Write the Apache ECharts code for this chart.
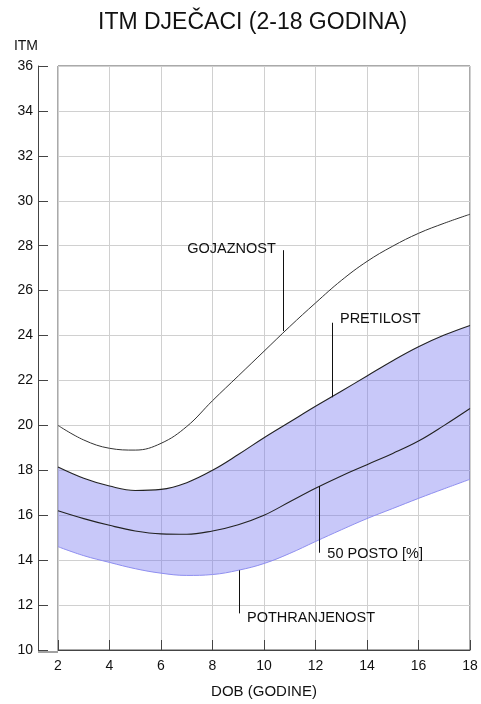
<!DOCTYPE html>
<html>
<head>
<meta charset="utf-8">
<script src="https://cdn.jsdelivr.net/npm/echarts@6/dist/echarts.min.js"></script>
<style>
html,body{margin:0;padding:0;background:#fff;}
#chart{width:481px;height:704px;}
</style>
</head>
<body>
<div id="chart"></div>
<script>
// ---- data ----
const ages = [2,3,4,5,6,7,8,9,10,11,12,13,14,15,16,17,18];
const gojaznost     = [20.0,19.35,18.98,18.9,19.2,19.95,21.1,22.2,23.3,24.4,25.45,26.45,27.3,27.98,28.55,29.0,29.4];
const pretilost     = [18.15,17.65,17.3,17.1,17.15,17.45,18.0,18.7,19.45,20.15,20.85,21.52,22.2,22.88,23.5,24.02,24.45];
const posto50       = [16.2,15.85,15.55,15.3,15.17,15.15,15.3,15.58,16.0,16.6,17.2,17.75,18.25,18.75,19.3,20.0,20.75];
const pothranjenost = [14.6,14.2,13.9,13.62,13.42,13.32,13.36,13.55,13.85,14.3,14.83,15.35,15.85,16.3,16.75,17.18,17.6];

const titleText = 'ITM DJEČACI (2-18 GODINA)';
const xName = 'DOB (GODINE)';
const yName = 'ITM';

// annotations (data-space anchor points for leader lines and labels)
const annLabels = ['GOJAZNOST','PRETILOST','50 POSTO [%]','POTHRANJENOST'];
const annX      = [10.73, 12.64, 12.15, 9.03];
const annYFrom  = [24.2, 21.25, 17.3, 13.55];
const annYTo    = [27.8, 24.57, 14.33, 11.63];
const annYText  = [27.85, 24.75, 14.29, 11.44];
const annSide   = ['left','right','right','right'];

// ---- build ----
const cats = ages.map(String);
const bandWidth = ages.map((a,i)=> +(pretilost[i]-pothranjenost[i]).toFixed(3));
const FONT = 'Liberation Sans, Arial, sans-serif';
const SM = 0.4;

const chart = echarts.init(document.getElementById('chart'), null, {renderer:'canvas'});
chart.setOption({
  animation:false,
  backgroundColor:'#fff',
  title:{
    text:titleText, left:93, top:6,
    textStyle:{fontFamily:FONT,fontSize:23,fontWeight:'normal',color:'#111'}
  },
  grid:{left:58,right:11,top:66,bottom:52,show:true,borderColor:'#555',borderWidth:1,backgroundColor:'transparent'},
  xAxis:[{
    type:'category',data:cats,boundaryGap:false,
    name:xName,nameLocation:'middle',nameGap:34,
    nameTextStyle:{fontFamily:FONT,fontSize:15,color:'#111'},
    axisLine:{show:true,lineStyle:{color:'#444',width:1}},
    axisTick:{show:true,inside:true,length:10,interval:1,lineStyle:{color:'#444'}},
    axisLabel:{fontFamily:FONT,fontSize:14,color:'#111',margin:9,interval:1},
    splitLine:{show:true,interval:1,lineStyle:{color:'#d0d0d0',width:1}}
  },{
    type:'value',min:2,max:18,show:false,
    axisLine:{show:false},axisTick:{show:false},axisLabel:{show:false},splitLine:{show:false}
  }],
  yAxis:{
    type:'value',min:10,max:36,interval:2,offset:20,
    name:yName,nameLocation:'end',nameGap:13,
    nameTextStyle:{fontFamily:FONT,fontSize:14,color:'#111',align:'right'},
    axisLine:{show:true,lineStyle:{color:'#444',width:1}},
    axisTick:{show:true,inside:true,length:10,lineStyle:{color:'#444'}},
    axisLabel:{fontFamily:FONT,fontSize:14,color:'#111',margin:5},
    splitLine:{show:true,lineStyle:{color:'#d0d0d0',width:1}}
  },
  graphic:[{
    type:'line',shape:{x1:38,y1:652,x2:58,y2:652},style:{stroke:'#444',lineWidth:1},silent:true
  }],
  series:[
    {
      name:'pothranjenost',type:'line',stack:'band',data:pothranjenost,smooth:SM,
      symbol:'none',lineStyle:{color:'#8f8ff0',width:1},z:2
    },
    {
      name:'band',type:'line',stack:'band',data:bandWidth,smooth:SM,
      symbol:'none',lineStyle:{width:0,opacity:0},
      areaStyle:{color:'rgb(110,110,240)',opacity:0.38},z:1
    },
    {name:'pretilost',type:'line',data:pretilost,smooth:SM,symbol:'none',
      lineStyle:{color:'#222',width:1.1},z:3},
    {name:'50 posto',type:'line',data:posto50,smooth:SM,symbol:'none',
      lineStyle:{color:'#222',width:1.1},z:3},
    {name:'gojaznost',type:'line',data:gojaznost,smooth:SM,symbol:'none',
      lineStyle:{color:'#333',width:1},z:3},
    {
      name:'annotations',type:'line',xAxisIndex:1,data:[],symbol:'none',z:4,
      markLine:{silent:true,symbol:'none',label:{show:false},lineStyle:{color:'#111',width:1,type:'solid'},
        data:annLabels.map((t,i)=>[{coord:[annX[i],annYFrom[i]]},{coord:[annX[i],annYTo[i]]}])},
      markPoint:{silent:true,symbol:'circle',symbolSize:0,
        data:annLabels.map((t,i)=>({name:t,coord:[annX[i],annYText[i]],
          label:{show:true,formatter:t,position:annSide[i],distance:annSide[i]==='left'?7:8,
            fontFamily:FONT,fontSize:14.5,color:'#111'}}))}
    }
  ]
});
</script>
</body>
</html>
